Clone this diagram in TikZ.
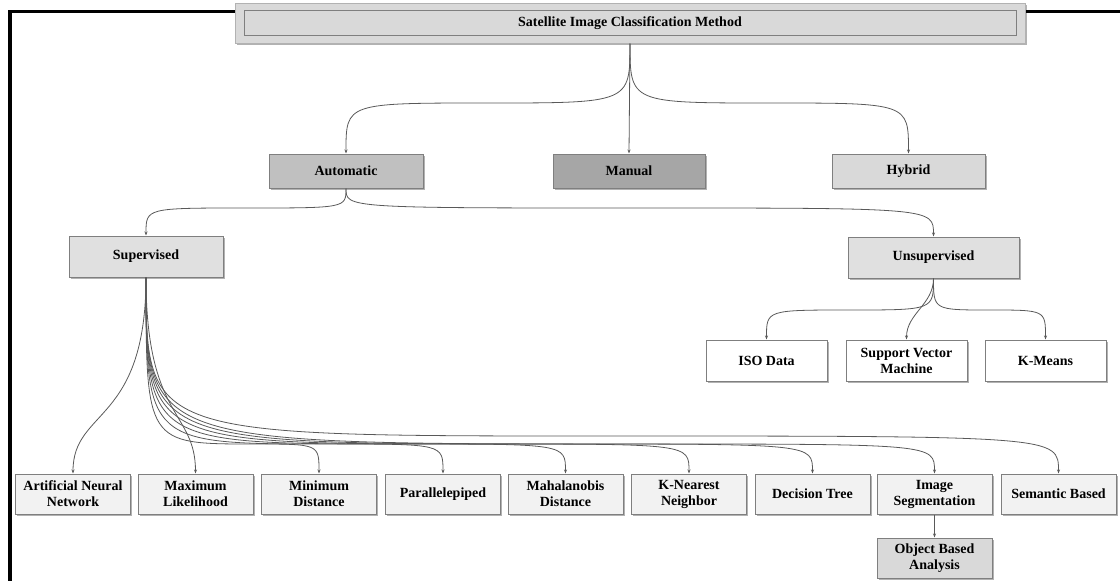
\documentclass[tikz,border=0pt]{standalone}
\usepackage{fontspec}
\setmainfont{Liberation Serif}
\usetikzlibrary{arrows.meta,calc,shadows}

\definecolor{boxline}{RGB}{127,127,127}
\definecolor{linkgray}{RGB}{89,89,89}
\definecolor{topfill}{RGB}{217,217,217}
\definecolor{autofill}{RGB}{192,192,192}
\definecolor{manfill}{RGB}{166,166,166}
\definecolor{supfill}{RGB}{224,224,224}
\definecolor{leaffill}{RGB}{242,242,242}

\begin{document}
\begin{tikzpicture}[x=1pt,y=1pt,
  box/.style={draw=boxline,line width=1pt,align=center,inner sep=0pt,
    font=\fontsize{14}{16}\selectfont\bfseries},
  lift/.style={drop shadow={shadow xshift=1.5pt,shadow yshift=-1.5pt,fill=black,opacity=.3}},
  leaf/.style={box,lift,fill=leaffill,minimum width=115,minimum height=40},
  link/.style={draw=linkgray,line width=.8pt,-{Stealth[length=4pt,width=3pt]}},
  sweep/.style 2 args={to path={(\tikztostart) .. controls (\tikztostart |- #1)
      .. ($(\tikztostart |- #1)!#2!(\tikztotarget |- #1)$)
      .. controls (\tikztotarget |- #1) .. (\tikztotarget)}},
  drop/.style={out=-90,in=90,out looseness=1.8,in looseness=.8}]
  \useasboundingbox (0,0) rectangle (1120,-581);
  \draw[line width=3.5pt] (10,-581) -- (10,-11.5) -- (1120,-11.5);

  % title
  \node[box,lift,fill=topfill,draw=boxline!60,minimum width=790,minimum height=40] (sic) at (630,-23) {};
  \node[box,fill=topfill,minimum width=772,minimum height=25] (sictag) at (630,-23)
       {Satellite Image Classification Method};

  \node[box,lift,fill=autofill,minimum width=154,minimum height=34] (auto) at (346,-171) {Automatic};
  \node[box,lift,fill=manfill,minimum width=152,minimum height=34] (man) at (629,-171) {Manual};
  \node[box,lift,fill=topfill,minimum width=153,minimum height=34] (hyb) at (908.5,-171) {Hybrid};

  \node[box,lift,fill=supfill,minimum width=154,minimum height=41] (sup) at (146,-256.5) {Supervised};
  \node[box,lift,fill=supfill,minimum width=171,minimum height=41] (unsup) at (933.5,-257.5) {Unsupervised};

  \node[box,lift,fill=white,minimum width=121,minimum height=41] (iso) at (766.5,-360.5) {ISO Data};
  \node[box,lift,fill=white,minimum width=121,minimum height=41] (svm) at (906.5,-360.5) {Support Vector\\Machine};
  \node[box,lift,fill=white,minimum width=121,minimum height=41] (km) at (1045.5,-360.5) {K-Means};

  \node[leaf] (ann) at (73,-494) {Artificial Neural\\Network};
  \node[leaf] (ml) at (195.5,-494) {Maximum\\Likelihood};
  \node[leaf] (mind) at (319,-494) {Minimum\\Distance};
  \node[leaf] (para) at (443,-494) {Parallelepiped};
  \node[leaf] (maha) at (565.5,-494) {Mahalanobis\\Distance};
  \node[leaf] (knn) at (689,-494) {K-Nearest\\Neighbor};
  \node[leaf] (dt) at (812.5,-494) {Decision Tree};
  \node[leaf] (seg) at (934.5,-494) {Image\\Segmentation};
  \node[leaf] (sem) at (1058.5,-494) {Semantic Based};
  \node[leaf,fill=topfill] (oba) at (934.5,-558) {Object Based\\Analysis};

  % levels where the curves run flat
  \coordinate (lv1) at (0,-103);
  \coordinate (lv2) at (0,-208);
  \coordinate (lv3) at (0,-310);
  \coordinate (lv4) at (0,-444);
  \coordinate (lv5) at (0,-436);

  \draw[link] (sic.south) to[sweep={lv1}{.5}] (auto.north);
  \draw[link] (sic.south) -- (man.north);
  \draw[link] (sic.south) to[sweep={lv1}{.5}] (hyb.north);
  \draw[link] (auto.south) to[sweep={lv2}{.5}] (sup.north);
  \draw[link] (auto.south) to[sweep={lv2}{.5}] (unsup.north);
  \draw[link] (unsup.south) to[sweep={lv3}{.5}] (iso.north);
  \draw[link] (unsup.south) to[out=-90,in=90] (svm.north);
  \draw[link] (unsup.south) to[sweep={lv3}{.5}] (km.north);
  \draw[link] (sup.south) to[drop] (ann.north);
  \draw[link] (sup.south) to[drop] (ml.north);
  \foreach \n in {mind,para,maha,knn,dt,seg}
    \draw[link] (sup.south) to[sweep={lv4}{.62}] (\n.north);
  \draw[link] (sup.south) to[sweep={lv5}{.5}] (sem.north);
  \draw[link] (seg.south) -- (oba.north);
\end{tikzpicture}
\end{document}
